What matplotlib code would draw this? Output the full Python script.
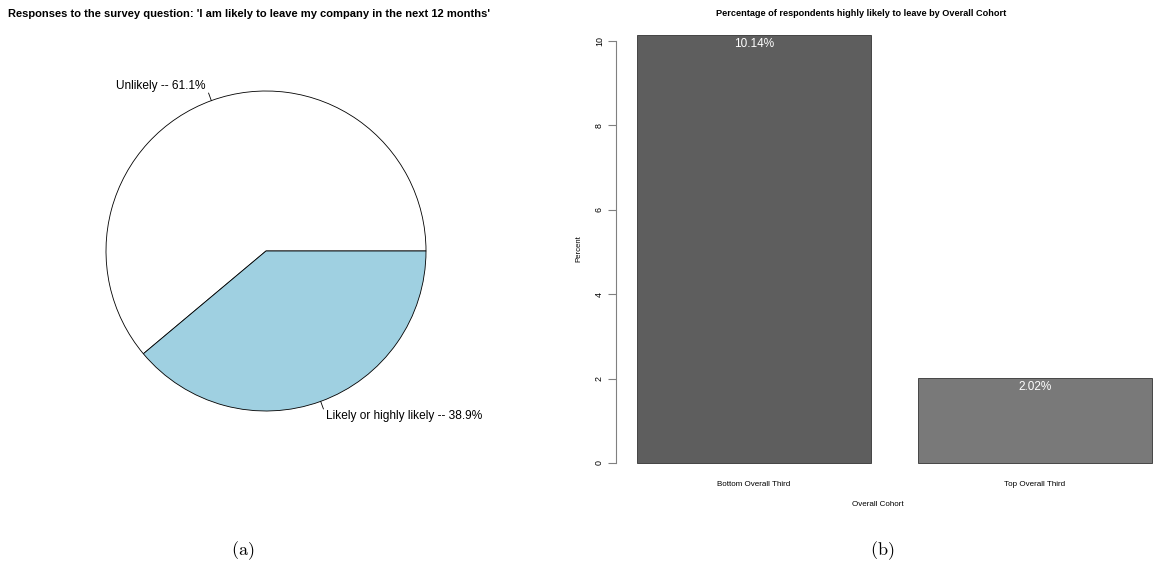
import numpy as np
import matplotlib
matplotlib.use("Agg")
import matplotlib.pyplot as plt

plt.rcParams["font.family"] = ["Liberation Sans", "DejaVu Sans"]
plt.rcParams["mathtext.fontset"] = "cm"

# Survey answers (pie)
pie_labels = ["Unlikely", "Likely or highly likely"]
pie_values = [61.1, 38.9]
pie_colors = ["white", "#9fd0e1"]

# Share highly likely to leave by cohort (bars)
cohorts = ["Bottom Overall Third", "Top Overall Third"]
pct_values = [10.14, 2.02]
bar_colors = ["#5e5e5e", "#797979"]
y_ticks = [0, 2, 4, 6, 8, 10]

W, H = 1153, 567
fig = plt.figure(figsize=(W / 100, H / 100), dpi=100)


def px_axes(x0, y0, x1, y1):
    return fig.add_axes([x0 / W, 1 - y1 / H, (x1 - x0) / W, (y1 - y0) / H])


# ---------------- Pie ----------------
cx, cy, r = 266, 251, 160
half = 1.4 * r
axp = px_axes(cx - half, cy - half, cx + half, cy + half)
axp.axis("off")
axp.pie(pie_values, colors=pie_colors, startangle=0, counterclock=True,
        radius=1.0, wedgeprops=dict(edgecolor="black", linewidth=0.6))
axp.set_aspect("equal")
axp.set_xlim(-1.4, 1.4)
axp.set_ylim(-1.4, 1.4)

fr = np.array(pie_values) / np.sum(pie_values)
edges = np.concatenate([[0], np.cumsum(fr)])
for lab, v, a0, a1 in zip(pie_labels, pie_values, edges[:-1], edges[1:]):
    ang = np.pi * (a0 + a1)
    c, s = np.cos(ang), np.sin(ang)
    axp.plot([c, 1.05 * c], [s, 1.05 * s], color="black", lw=0.6)
    axp.text(1.1 * c, 1.1 * s, f"{lab} -- {v}%", ha="left" if c > 0 else "right",
             va="center", fontsize=8.6)

fig.text(8 / W, 1 - 14 / H,
         "Responses to the survey question: 'I am likely to leave my company in the next 12 months'",
         fontsize=8.0, fontweight="bold", ha="left", va="center")

# ---------------- Bars ----------------
axb = px_axes(616.4, 18, 1172.6, 480.1)
xpos = [0.7, 1.9]
axb.bar(xpos, pct_values, width=1.0, color=bar_colors, edgecolor="#333333", linewidth=0.6)
axb.set_xlim(0.112, 2.488)
axb.set_ylim(-0.4056, 10.5456)
for sp in ["top", "right", "bottom"]:
    axb.spines[sp].set_visible(False)
axb.spines["left"].set_bounds(0, 10)
axb.spines["left"].set_color("#808080")
axb.spines["left"].set_linewidth(0.8)
axb.set_yticks(y_ticks)
axb.set_yticklabels([str(t) for t in y_ticks], rotation=90, va="center", fontsize=6.4)
axb.tick_params(axis="y", length=6, width=0.8, color="#808080", pad=3)
axb.set_xticks(xpos)
axb.set_xticklabels(cohorts, fontsize=5.8)
axb.tick_params(axis="x", length=0, pad=1)
axb.set_ylabel("Percent", fontsize=5.6, labelpad=9)
for x, v in zip(xpos, pct_values):
    axb.annotate(f"{v:.2f}%", (x, v), xytext=(0, -2), textcoords="offset points",
                 ha="center", va="top", color="white", fontsize=8.5)

fig.text(861 / W, 1 - 14 / H,
         "Percentage of respondents highly likely to leave by Overall Cohort",
         fontsize=6.6, fontweight="bold", ha="center", va="center")
fig.text(878 / W, 1 - 504 / H, "Overall Cohort", fontsize=5.8, ha="center", va="center")

# Sub-figure captions
fig.text(243 / W, 1 - 551 / H, r"$\mathrm{(a)}$", fontsize=13, ha="center", va="center")
fig.text(882 / W, 1 - 551 / H, r"$\mathrm{(b)}$", fontsize=13, ha="center", va="center")

fig.savefig("out.png", dpi=100)
